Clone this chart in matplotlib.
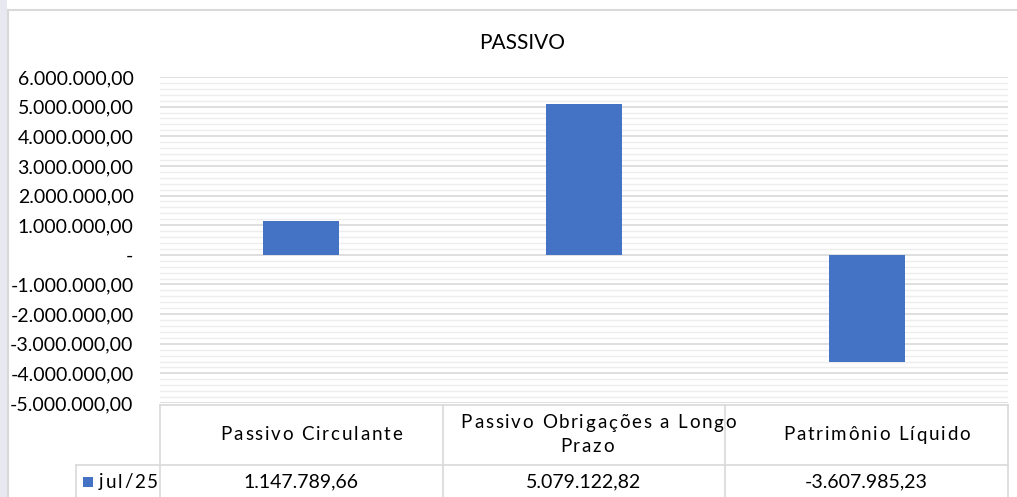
import matplotlib.pyplot as plt
import numpy as np
from matplotlib.lines import Line2D
from matplotlib.patches import Rectangle
from matplotlib.font_manager import FontProperties

categories = ['Passivo Circulante', 'Passivo Obrigações a Longo\nPrazo', 'Patrimônio Líquido']
values = [1147789.66, 5079122.82, -3607985.23]
series_name = 'jul/25'
title = 'PASSIVO'

W, H = 1017, 497
bar_color = '#4472C4'
font = 'Lato'


def br_fmt(v):
    if v == 0:
        return '-'
    s = '{:,.2f}'.format(v)
    return s.replace(',', '#').replace('.', ',').replace('#', '.')


def fx(px):
    return px / W


def fy(py):
    return 1 - py / H


fig = plt.figure(figsize=(W / 100, H / 100), dpi=100)
fig.patch.set_facecolor('white')
renderer = fig.canvas.get_renderer()


def spaced_text(cx, cy, s, size, gap, ha='center'):
    # Excel-style letter spacing: place characters one by one
    prop = FontProperties(family=font, size=size)
    widths = [renderer.get_text_width_height_descent(ch, prop, ismath=False)[0] for ch in s]
    total = sum(widths) + gap * (len(s) - 1)
    x0 = cx - total / 2 + 0.55 * len(s) if ha == 'center' else cx
    for ch, w in zip(s, widths):
        fig.text(fx(x0), fy(cy), ch, ha='left', va='center', fontproperties=prop)
        x0 += w + gap


# faint strip + chart frame
fig.add_artist(Rectangle((0, 0), fx(7), 1, transform=fig.transFigure, color='#e8e8f0', lw=0, zorder=0))
fig.add_artist(Line2D([fx(8), fx(8)], [0, fy(10)], transform=fig.transFigure, color='#d9d9d9', lw=1.5))
fig.add_artist(Line2D([fx(8), 1], [fy(10), fy(10)], transform=fig.transFigure, color='#d9d9d9', lw=1.5))

left, right, top, bottom = 160, 1008, 77, 403
ax = fig.add_axes([fx(left), fy(bottom), fx(right - left), fy(top) - fy(bottom)])

x = np.arange(len(categories))
ax.bar(x, values, width=0.27, color=bar_color, zorder=3)
ax.set_xlim(-0.5, len(categories) - 0.5)
ax.set_ylim(-5e6, 6e6)

major = np.arange(-5e6, 6e6 + 1, 1e6)
minor = np.arange(-5e6, 6e6 + 1, 2e5)
ax.set_yticks(major)
ax.set_yticks(minor, minor=True)
ax.set_yticklabels([br_fmt(v) for v in major], fontsize=14, family=font)
ax.grid(axis='y', which='minor', color='#ededed', lw=1, zorder=0)
ax.grid(axis='y', which='major', color='#d9d9d9', lw=1.2, zorder=1)
ax.tick_params(axis='y', which='both', length=0, pad=19, colors='black')
ax.set_xticks([])
for s in ax.spines.values():
    s.set_visible(False)

fig.text(fx(522), fy(43), title, ha='center', va='center', fontsize=15, family=font)

# data table
lc = '#d9d9d9'
def hline(y, x0, x1):
    fig.add_artist(Line2D([fx(x0), fx(x1)], [fy(y), fy(y)], transform=fig.transFigure, color=lc, lw=1.2))

def vline(xp, y0, y1):
    fig.add_artist(Line2D([fx(xp), fx(xp)], [fy(y0), fy(y1)], transform=fig.transFigure, color=lc, lw=1.2))

hline(405, 160, 1008)
hline(465, 76, 1008)
vline(76, 465, 497)
col_w = (right - left) / len(categories)
for i in range(len(categories) + 1):
    vline(left + i * col_w, 405, 497)

for i, (c, v) in enumerate(zip(categories, values)):
    cx = left + (i + 0.5) * col_w
    lines = c.split('\n')
    y0 = 435 - 12 * (len(lines) - 1)
    for j, ln in enumerate(lines):
        spaced_text(cx, y0 + 24 * j, ln, 13.5, 1.8)
    fig.text(fx(cx), fy(482), br_fmt(v), ha='center', va='center', fontsize=14, family=font)

fig.add_artist(Rectangle((fx(83), fy(487)), fx(10), fy(477) - fy(487), transform=fig.transFigure,
                         color=bar_color, lw=0))
spaced_text(99, 482, series_name, 13.5, 1.8, ha='left')

plt.savefig('out.png', dpi=100)
